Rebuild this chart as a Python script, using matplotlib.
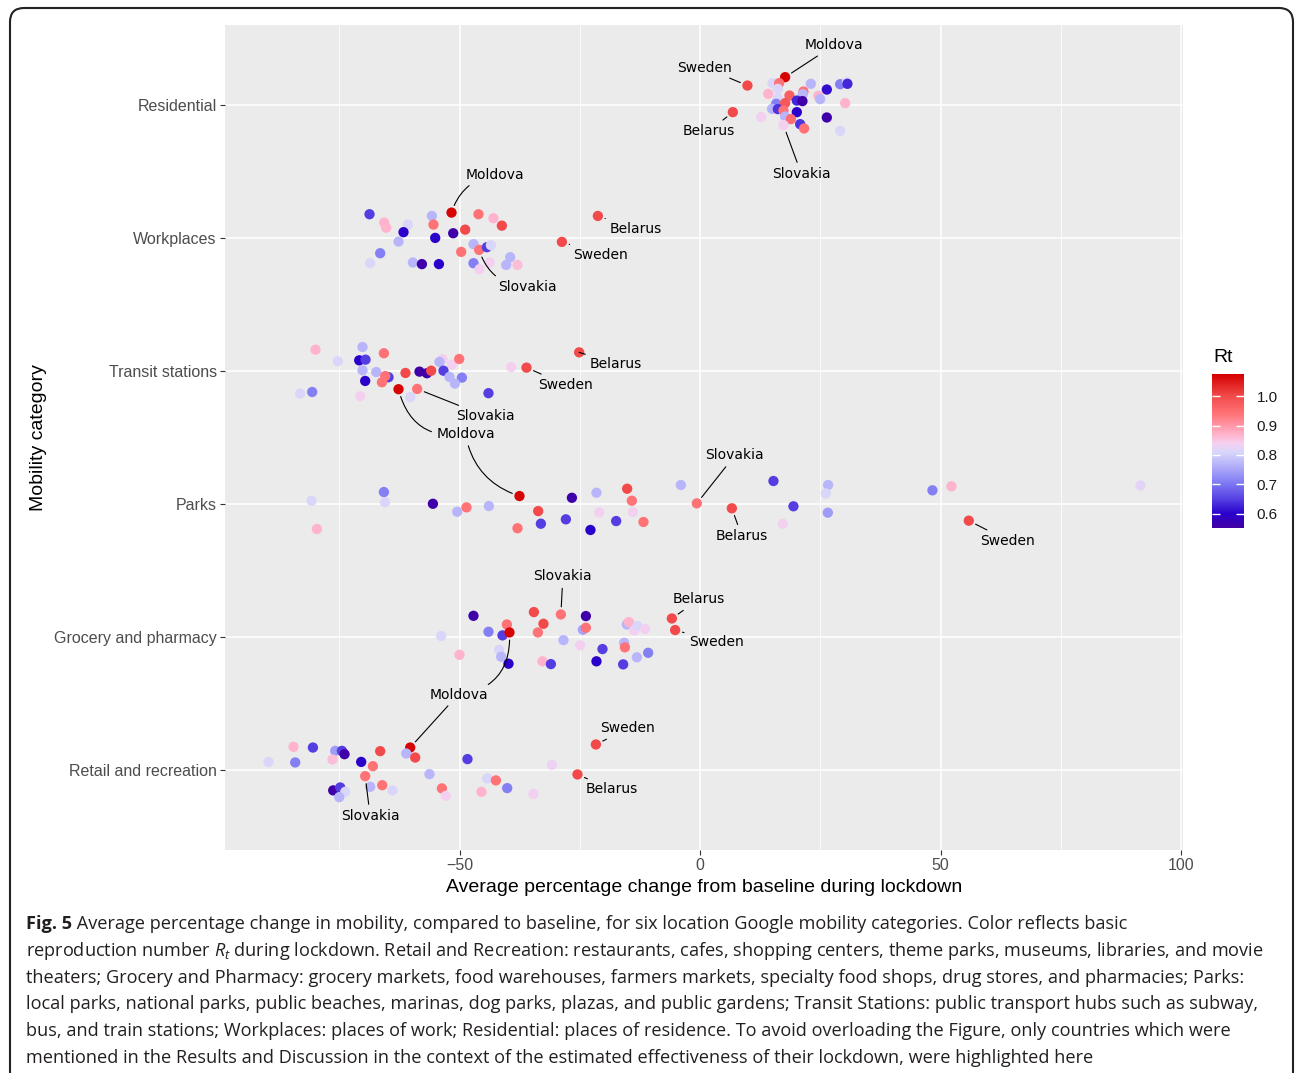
import numpy as np
import matplotlib.pyplot as plt
from matplotlib.colors import LinearSegmentedColormap, Normalize
from matplotlib.patches import FancyBboxPatch
import matplotlib.cm as cm

plt.rcParams['font.family'] = ['Liberation Sans', 'DejaVu Sans']
plt.rcParams['mathtext.fontset'] = 'custom'
plt.rcParams['mathtext.rm'] = 'Open Sans'
plt.rcParams['mathtext.it'] = 'Open Sans:italic'
plt.rcParams['mathtext.bf'] = 'Open Sans:bold'

# %%
# mobility categories, bottom to top
categories = ["Retail and recreation", "Grocery and pharmacy", "Parks",
              "Transit stations", "Workplaces", "Residential"]

# average % change from baseline, vertical jitter, Rt  (one entry per country)
res_change = [9.83, 17.67, 6.80, 15.03, 16.42, 14.14, 16.15, 18.57, 21.48, 21.35,
              23.01, 26.34, 29.11, 30.50, 30.62, 24.59, 24.95, 30.15, 16.15, 15.80,
              17.67, 20.10, 21.27, 14.96, 16.15, 17.32, 20.10, 17.67, 18.86, 12.68,
              20.79, 21.62, 17.32, 29.11, 26.34]
res_jitter = [0.145, 0.208, -0.055, 0.163, 0.163, 0.083, 0.120, 0.070, 0.100, 0.080,
              0.158, 0.115, 0.155, 0.170, 0.158, 0.068, 0.043, 0.013, 0.050, 0.008,
              0.013, 0.032, 0.028, -0.030, -0.032, -0.043, -0.055, -0.088, -0.107, -0.092,
              -0.145, -0.178, -0.152, -0.195, -0.095]
res_rt = [1.00, 1.07, 1.00, 0.81, 0.94, 0.87, 0.81, 0.97, 0.94, 0.77,
          0.77, 0.61, 0.71, 0.81, 0.63, 0.87, 0.77, 0.87, 0.81, 0.71,
          0.98, 0.63, 0.56, 0.77, 0.64, 0.94, 0.60, 0.77, 0.95, 0.84,
          0.64, 0.94, 0.84, 0.81, 0.56]

work_change = [-68.75, -65.70, -65.28, -60.77, -61.68, -62.72, -66.53, -68.61, -59.73, -57.86,
               -54.32, -55.78, -55.45, -55.09, -51.70, -51.35, -48.86, -46.09, -42.97, -41.23,
               -49.69, -47.13, -45.95, -44.35, -43.51, -47.13, -45.88, -43.80, -39.50, -40.33,
               -37.98, -21.27, -28.75]
work_jitter = [0.178, 0.115, 0.077, 0.100, 0.043, -0.028, -0.115, -0.190, -0.185, -0.197,
               -0.197, 0.165, 0.100, 0.000, 0.190, 0.035, 0.062, 0.178, 0.148, 0.092,
               -0.105, -0.047, -0.090, -0.070, -0.055, -0.190, -0.235, -0.185, -0.145, -0.203,
               -0.203, 0.165, -0.030]
work_rt = [0.65, 0.87, 0.87, 0.81, 0.60, 0.77, 0.71, 0.81, 0.77, 0.56,
           0.60, 0.77, 0.94, 0.60, 1.07, 0.56, 1.00, 0.94, 0.87, 1.00,
           0.94, 0.77, 0.94, 0.65, 0.81, 0.71, 0.84, 0.84, 0.77, 0.77,
           0.86, 1.00, 1.00]

transit_change = [-79.98, -70.21, -75.32, -70.89, -69.58, -65.76, -70.21, -67.36, -64.80, -65.49,
                  -66.17, -69.65, -61.27, -58.36, -56.82, -55.93, -53.58, -54.20, -51.62, -50.10,
                  -53.37, -52.12, -49.54, -51.00, -62.72, -58.84, -60.29, -70.69, -83.16, -80.67,
                  -44.01, -39.29, -36.11, -25.16]
transit_jitter = [0.160, 0.180, 0.073, 0.080, 0.085, 0.133, 0.005, -0.008, -0.047, -0.038,
                  -0.085, -0.075, -0.015, -0.005, -0.017, 0.002, 0.088, 0.068, 0.047, 0.090,
                  0.002, -0.045, -0.050, -0.095, -0.137, -0.135, -0.197, -0.190, -0.170, -0.158,
                  -0.167, 0.030, 0.025, 0.140]
transit_rt = [0.87, 0.77, 0.81, 0.60, 0.65, 0.94, 0.77, 0.77, 0.65, 0.94,
              0.94, 0.60, 1.00, 0.56, 0.56, 1.00, 0.84, 0.77, 0.84, 0.94,
              0.65, 0.77, 0.71, 0.77, 1.07, 0.94, 0.81, 0.84, 0.81, 0.71,
              0.65, 0.84, 1.00, 1.00]

parks_change = [-80.81, -79.69, -65.76, -65.55, -55.57, -50.52, -48.59, -43.93, -37.57, -37.98,
                -33.68, -33.12, -26.67, -27.92, -22.81, -21.56, -21.00, -17.46, -15.18, -14.20,
                -13.99, -11.79, -4.01, -0.69, 6.59, 15.24, 19.40, 17.19, 26.61, 26.13,
                26.55, 48.30, 52.25, 55.86, 91.54]
parks_jitter = [0.025, -0.188, 0.090, 0.013, 0.002, -0.058, -0.025, -0.015, 0.060, -0.182,
                -0.053, -0.148, 0.047, -0.115, -0.195, 0.085, -0.062, -0.128, 0.115, 0.025,
                -0.060, -0.135, 0.143, 0.005, -0.032, 0.173, -0.017, -0.148, 0.143, 0.080,
                -0.065, 0.103, 0.133, -0.125, 0.140]
parks_rt = [0.81, 0.87, 0.71, 0.81, 0.56, 0.77, 0.94, 0.77, 1.07, 0.94,
            1.00, 0.65, 0.56, 0.65, 0.60, 0.77, 0.84, 0.65, 1.00, 0.94,
            0.84, 0.94, 0.77, 0.94, 1.00, 0.65, 0.65, 0.84, 0.77, 0.81,
            0.74, 0.71, 0.87, 1.00, 0.82]

groc_change = [-53.85, -50.04, -47.13, -44.01, -41.10, -40.19, -39.65, -41.79, -41.37, -39.85,
               -34.57, -32.58, -33.74, -32.79, -31.04, -28.96, -28.42, -23.76, -24.39, -23.76,
               -24.95, -20.31, -21.56, -16.01, -15.80, -15.65, -15.24, -14.82, -13.72, -13.04,
               -11.43, -13.16, -10.81, -5.88, -5.20]
groc_jitter = [0.008, -0.133, 0.160, 0.040, 0.013, 0.095, 0.035, -0.095, -0.148, -0.200,
               0.188, 0.100, 0.035, -0.182, -0.203, 0.170, -0.023, 0.158, 0.055, 0.070,
               -0.062, -0.090, -0.182, -0.205, -0.043, -0.077, 0.095, 0.113, 0.050, 0.083,
               0.060, -0.152, -0.118, 0.140, 0.053]
groc_rt = [0.81, 0.87, 0.56, 0.71, 0.65, 0.94, 1.07, 0.81, 0.77, 0.60,
           1.00, 1.00, 0.94, 0.87, 0.65, 0.94, 0.77, 0.56, 0.75, 0.94,
           0.84, 0.65, 0.60, 0.65, 0.77, 0.94, 0.77, 0.87, 0.84, 0.81,
           0.84, 0.77, 0.71, 1.00, 1.00]

retail_change = [-89.75, -84.55, -84.20, -80.52, -75.88, -74.49, -73.95, -76.44, -70.48, -66.53,
                 -68.05, -69.65, -60.29, -61.12, -59.25, -48.38, -56.28, -68.61, -66.11, -63.97,
                 -76.30, -74.84, -73.80, -75.05, -53.70, -52.87, -44.28, -42.47, -40.12, -45.47,
                 -34.66, -30.83, -21.68, -25.51]
retail_jitter = [0.062, 0.175, 0.058, 0.170, 0.145, 0.145, 0.120, 0.080, 0.062, 0.143,
                 0.030, -0.045, 0.170, 0.125, 0.095, 0.083, -0.030, -0.125, -0.113, -0.152,
                 -0.152, -0.130, -0.163, -0.203, -0.137, -0.193, -0.062, -0.077, -0.135, -0.163,
                 -0.178, 0.040, 0.193, -0.032]
retail_rt = [0.81, 0.87, 0.71, 0.65, 0.74, 0.65, 0.56, 0.86, 0.60, 1.00,
             0.94, 0.94, 1.07, 0.77, 1.00, 0.65, 0.77, 0.77, 0.94, 0.81,
             0.56, 0.65, 0.81, 0.77, 0.94, 0.84, 0.81, 0.94, 0.71, 0.87,
             0.84, 0.83, 1.00, 1.00]

changes = [retail_change, groc_change, parks_change, transit_change, work_change, res_change]
jitters = [retail_jitter, groc_jitter, parks_jitter, transit_jitter, work_jitter, res_jitter]
rts = [retail_rt, groc_rt, parks_rt, transit_rt, work_rt, res_rt]

# highlighted countries: (category index, point index, name)
highlight = [
    (5, 0, "Sweden"), (5, 1, "Moldova"), (5, 2, "Belarus"), (5, 32, "Slovakia"),
    (4, 14, "Moldova"), (4, 31, "Belarus"), (4, 32, "Sweden"), (4, 22, "Slovakia"),
    (3, 33, "Belarus"), (3, 32, "Sweden"), (3, 25, "Slovakia"), (3, 24, "Moldova"),
    (2, 8, "Moldova"), (2, 23, "Slovakia"), (2, 24, "Belarus"), (2, 33, "Sweden"),
    (1, 15, "Slovakia"), (1, 33, "Belarus"), (1, 34, "Sweden"), (1, 6, "Moldova"),
    (0, 12, "Moldova"), (0, 32, "Sweden"), (0, 33, "Belarus"), (0, 11, "Slovakia"),
]
# label offsets in pixels, curvature of connector, whether the text is drawn
label_layout = [
    (-43, 18, 0, True), (49, 32, 0, True), (-24, -19, 0, True), (18, -49, 0, True),
    (43, 38, 0.3, True), (38, -13, 0, True), (39, -13, 0, True), (48, -37, -0.35, True),
    (37, -12, 0, True), (39, -17, 0, True), (68, -27, 0, True), (67, -45, -0.45, True),
    (-54, 62, 0.3, False), (38, 48, 0, True), (10, -28, 0, True), (39, -20, 0, True),
    (2, 38, 0, True), (27, 19, 0, True), (41, -12, 0, True), (-51, -63, 0.45, True),
    (48, 53, 0, False), (32, 16, 0, True), (34, -15, 0, True), (5, -40, 0, True),
]

# %%
rt_min, rt_max = 0.552, 1.075
rt_nodes = [0.552, 0.60, 0.65, 0.71, 0.77, 0.81, 0.84, 0.87, 0.94, 1.00, 1.075]
rt_cols = ['#4200a4', '#2a00cc', '#5540e2', '#8480f4', '#b9b6fb', '#d9d6fa',
           '#f5d0f0', '#ffb3cc', '#ff7377', '#f24b4b', '#d50000']
cmap = LinearSegmentedColormap.from_list(
    'rt', [((v - rt_min) / (rt_max - rt_min), c) for v, c in zip(rt_nodes, rt_cols)])
norm = Normalize(rt_min, rt_max)

W, H = 1295, 1073
fig = plt.figure(figsize=(W / 100, H / 100), dpi=100)
ax = fig.add_axes([225 / W, 1 - 850 / H, (1183 - 225) / W, (850 - 25) / H])
ax.set_facecolor('#EBEBEB')
for s in ax.spines.values():
    s.set_visible(False)

ax.set_xlim(-98.8, 100.4)
ax.set_ylim(0.4, 6.6)
ax.set_xticks([-50, 0, 50, 100])
ax.set_xticks([-75, -25, 25, 75], minor=True)
ax.set_yticks(range(1, 7))
ax.set_yticklabels(categories)
ax.grid(which='major', color='white', lw=1.1)
ax.grid(which='minor', axis='x', color='white', lw=0.55)
ax.set_axisbelow(True)
ax.tick_params(which='major', color='#333333', length=3.5, width=0.8,
               labelcolor='#4d4d4d', labelsize=11.5, pad=2.5)
ax.tick_params(which='minor', length=0)
ax.set_xticklabels(['\u221250', '0', '50', '100'])

for i in range(6):
    yy = np.array(jitters[i]) + i + 1
    ax.scatter(changes[i], yy, c=rts[i], cmap=cmap, norm=norm, s=55,
               linewidths=0, zorder=3)

ax.set_xlabel("Average percentage change from baseline during lockdown",
              fontsize=14, color='black', labelpad=4)
ax.set_ylabel("Mobility category", fontsize=14, color='black', labelpad=5)

for (ci, pi, name), (dx, dy, rad, vis) in zip(highlight, label_layout):
    ax.annotate(name, xy=(changes[ci][pi], jitters[ci][pi] + ci + 1),
                xytext=(dx, dy), textcoords='offset pixels', ha='center', va='center',
                fontsize=10, family='DejaVu Sans', color='black' if vis else 'none',
                zorder=5,
                arrowprops=dict(arrowstyle='-', color='black', lw=0.8, shrinkA=1.5,
                                shrinkB=5.5, connectionstyle=f'arc3,rad={rad}'))

# colour bar for Rt
cax = fig.add_axes([1212 / W, 1 - 528 / H, 32 / W, 154 / H])
cb = fig.colorbar(cm.ScalarMappable(norm=norm, cmap=cmap), cax=cax,
                  ticks=[0.6, 0.7, 0.8, 0.9, 1.0])
cb.outline.set_visible(False)
cb.ax.set_yticklabels(['0.6', '0.7', '0.8', '0.9', '1.0'])
cb.ax.tick_params(which='major', direction='in', color='white', length=6, width=1,
                  left=True, right=True, labelsize=11, labelcolor='#1a1a1a', pad=9)
cb.ax.tick_params(which='minor', length=0)
fig.text(1213 / W, 1 - 357 / H, "Rt", fontsize=14, va='center', ha='left')

# caption
caption = [
    " Average percentage change in mobility, compared to baseline, for six location Google mobility categories. Color reflects basic",
    r"reproduction number $R_t$ during lockdown. Retail and Recreation: restaurants, cafes, shopping centers, theme parks, museums, libraries, and movie",
    "theaters; Grocery and Pharmacy: grocery markets, food warehouses, farmers markets, specialty food shops, drug stores, and pharmacies; Parks:",
    "local parks, national parks, public beaches, marinas, dog parks, plazas, and public gardens; Transit Stations: public transport hubs such as subway,",
    "bus, and train stations; Workplaces: places of work; Residential: places of residence. To avoid overloading the Figure, only countries which were",
    "mentioned in the Results and Discussion in the context of the estimated effectiveness of their lockdown, were highlighted here",
]
line_ends = [1164, 1271, 1246, 1271, 1270, 1122]
cap_x0 = 26
cap_col = '#231f20'
renderer = fig.canvas.get_renderer()

fig_lbl = fig.text(cap_x0 / W, 1 - 929 / H, "Fig. 5", fontsize=14, family='Open Sans',
                   weight='bold', color=cap_col, va='baseline', ha='left')
cap_texts = []
for k, line in enumerate(caption):
    t = fig.text(cap_x0 / W, 1 - (929 + 26.8 * k) / H, line, fontsize=14,
                 family='Open Sans', color=cap_col, va='baseline', ha='left')
    cap_texts.append(t)

lead = fig_lbl.get_window_extent(renderer).width
scales = []
for k, t in enumerate(cap_texts):
    w = t.get_window_extent(renderer).width + (lead if k == 0 else 0)
    scales.append((line_ends[k] - cap_x0) / w)
# keep the widest lines inside the frame
fs = 14 * min(float(np.median(scales)), min(scales[1:5]) * 1.004)
fig_lbl.set_fontsize(fs)
for t in cap_texts:
    t.set_fontsize(fs)
lead = fig_lbl.get_window_extent(renderer).width
cap_texts[0].set_x((cap_x0 + lead) / W)

# frame around figure
frame = FancyBboxPatch((10, -20), 1283, 1065 + 20, boxstyle='round,pad=0,rounding_size=14',
                       transform=None, fill=False, lw=1.5, ec='#222222')
fig.patches.append(frame)

fig.savefig('out.png', dpi=100)
